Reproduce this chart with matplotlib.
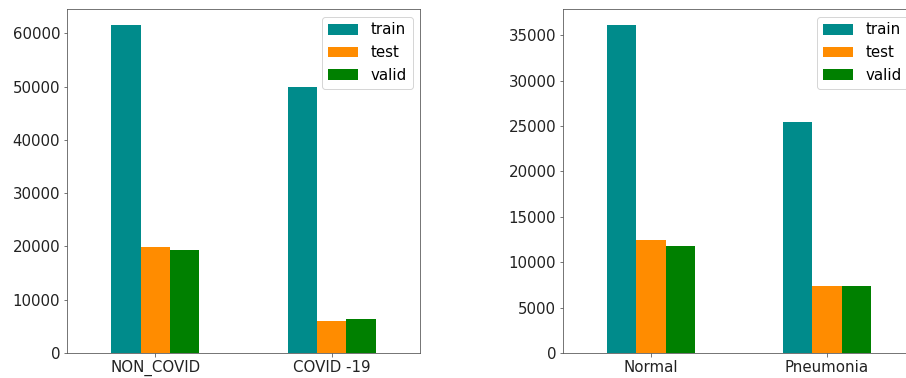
import pandas as pd
import matplotlib.pyplot as plt

plt.rcParams['font.family'] = ['DejaVu Sans']
plt.rcParams['font.size'] = 15

# 两个数据集的划分数量
covid_classes = ['NON_COVID', 'COVID -19']
covid_train = [61500, 50000]
covid_test = [19820, 5940]
covid_valid = [19310, 6320]

pneu_classes = ['Normal', 'Pneumonia']
pneu_train = [36100, 25490]
pneu_test = [12415, 7345]
pneu_valid = [11830, 7345]

colors = ['darkcyan', 'darkorange', 'green']

df_covid = pd.DataFrame({'train': covid_train, 'test': covid_test, 'valid': covid_valid},
                        index=covid_classes)
df_pneu = pd.DataFrame({'train': pneu_train, 'test': pneu_test, 'valid': pneu_valid},
                       index=pneu_classes)

DPI = 72
W, H = 906, 378
fig = plt.figure(figsize=(W / DPI, H / DPI), dpi=DPI)
ax1 = fig.add_axes([67 / W, (H - 353) / H, 353 / W, 344 / H])
ax2 = fig.add_axes([563 / W, (H - 353) / H, 352 / W, 344 / H])

for ax, df in [(ax1, df_covid), (ax2, df_pneu)]:
    df.plot.bar(ax=ax, color=colors, rot=0)
    ax.legend(loc='upper right')
    for s in ax.spines.values():
        s.set_color('#555555')
    ax.tick_params(colors='#555555', labelcolor='#222222')

plt.savefig('out.png', dpi=DPI)
